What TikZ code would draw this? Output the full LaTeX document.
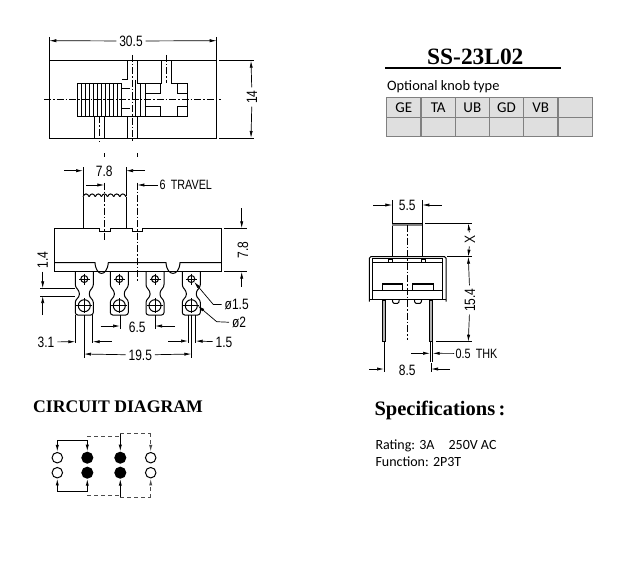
\documentclass[tikz,border=0pt]{standalone}
\usepackage{fontspec}
\setmainfont{Liberation Serif}
\newfontfamily\dimfont[FakeStretch=0.8]{Liberation Sans}
\newfontfamily\knobfont{Carlito}
\usepackage{tikz}
\usetikzlibrary{arrows.meta}

\begin{document}
\begin{tikzpicture}
	[x=1pt,y=-1pt,line width=1pt,
	>={Latex[length=7pt,width=3.2pt]},
	dimline/.style={->,line width=0.7pt},
	ext/.style={line width=0.7pt},
	center/.style={line width=0.6pt,dash pattern=on 7pt off 2pt on 1.5pt off 2pt},
	lab/.style={font=\dimfont\fontsize{15}{15}\selectfont,inner sep=2.5pt},
	note/.style={font=\dimfont\fontsize{13.5}{13.5}\selectfont,inner sep=1pt},
	hole/.style={circle,draw,inner sep=0pt},
	open/.style={circle,draw,fill=white,minimum size=10.5pt,inner sep=0pt},
	solid/.style={circle,draw,fill=black,minimum size=11pt,inner sep=0pt},
	cell/.style={font=\knobfont\fontsize{15}{15}\selectfont,inner sep=0pt}]
	\useasboundingbox (0,0) rectangle (617,567);
	%TOP VIEW
	\draw (49.3,60.7) rectangle (216.7,138);
	\foreach \x in {0,...,11}
	\draw (77.7+4*\x,83.3) -- (77.7+4*\x,116.3);
	\draw (77.7,83.3) rectangle (121.7,116.3);
	\draw (94.7,116.3) -- (94.7,138) (104.7,116.3) -- (104.7,138);
	\draw (127.7,60.7) -- (127.7,80) -- (121.7,80);
	\draw (121.7,88.3) -- (130,88.3) (121.7,108.3) -- (130,108.3);
	\draw (127.7,138) -- (127.7,116.7) -- (121.7,116.7);
	\draw (137.7,60.7) -- (137.7,83.3) -- (161,83.3) -- (161,60.7);
	\draw (171,60.7) -- (171,83.3) -- (187.7,83.3) -- (187.7,116.7) -- (127.7,116.7);
	\draw (137.7,116.7) -- (137.7,138);
	\draw (135,80) -- (135,116.7);
	\draw (140,83.3) -- (140,116.7) (145,83.3) -- (145,116.7);
	\draw (145,93.3) -- (160,93.3) -- (160,83.3);
	\draw (177.7,83.3) -- (177.7,93.3) -- (187.7,93.3);
	\draw (145,106.7) -- (160,106.7) -- (160,116.7);
	\draw (177.7,116.7) -- (177.7,106.7) -- (187.7,106.7);
	\draw[center] (44,99.7) -- (221,99.7);
	\draw[center] (132.7,55) -- (132.7,142);
	\draw[center] (166,55) -- (166,83);
	\draw[center] (99.5,116) -- (99.5,142);
	\draw[ext] (104.3,153) -- (104.3,157) (137.3,153) -- (137.3,157);
	\draw[ext] (49.3,37) -- (49.3,60.7) (216.7,37) -- (216.7,60.7);
	\draw[ext] (219,60.7) -- (254,60.7) (219,138) -- (254,138);
	\node[lab] (wid) at (131,41) {30.5};
	\node[lab,rotate=90] (hgt) at (252,97) {14};
	\foreach \n/\x/\y in {wl/49.3/40.7,wr/216.7/40.7,ht/251/60.7,hb/251/138}
	\coordinate (\n) at (\x,\y);
	\draw[dimline] (wid) -- (wl);
	\draw[dimline] (wid) -- (wr);
	\draw[dimline] (hgt) -- (ht);
	\draw[dimline] (hgt) -- (hb);
	%FRONT VIEW
	\draw (83,228.3) -- (83,196.7);
	\foreach \x in {0,...,6}
	\draw (83+6.14*\x,196.7) .. controls (84.5+6.14*\x,193) and (87.5+6.14*\x,193) .. (89.14+6.14*\x,196.7);
	\draw (126,196.7) -- (126,228.3);
	\draw (54.3,228.3) -- (99.3,228.3) -- (99.3,231.3) -- (110,231.3) -- (110,228.3)
		-- (132.7,228.3) -- (132.7,231.3) -- (142.7,231.3) -- (142.7,228.3)
		-- (221.7,228.3) -- (221.7,271.7) -- (54.3,271.7) -- cycle;
	\draw (54.3,262.7) -- (95,262.7) .. controls (96,277) and (107,277) .. (108.3,262.7) -- (166,262.7)
		.. controls (167,277) and (179,277) .. (180,262.7) -- (221.7,262.7);
	\foreach \x/\n in {84.3/0,119.3/1,155/2,191.3/3}
	{
		\draw[rounded corners=2.5pt] (\x-9,271.7) -- (\x-9,287) -- (\x-5,291) -- (\x-5,297) -- (\x-9,300) -- (\x-9,315) -- (\x+9,315)
			-- (\x+9,300) -- (\x+5,297) -- (\x+5,291) -- (\x+9,287) -- (\x+9,271.7);
		\node[hole,minimum size=7pt] (sm\n) at (\x,279) {};
		\node[hole,minimum size=12pt] (bg\n) at (\x,305.7) {};
		\draw[ext] (\x-5.5,279) -- (\x+5.5,279) (\x,273.5) -- (\x,284.5);
		\draw[ext] (\x-8,305.7) -- (\x+8,305.7) (\x,298) -- (\x,313);
	};
	\draw[center] (104.3,182.7) -- (104.3,240);
	\draw[center] (137.3,182.7) -- (137.3,282);
	\draw[ext] (83,167) -- (83,196) (126,167) -- (126,196);
	\draw[ext] (224,228.3) -- (247,228.3) (224,271.7) -- (247,271.7);
	\draw[ext] (40,288.3) -- (75,288.3) (40,296) -- (75,296);
	\draw[ext] (75.3,315) -- (75.3,343) (84,315) -- (84,358) (92.7,315) -- (92.7,343);
	\draw[ext] (120,315) -- (120,329) (155,315) -- (155,329);
	\draw[ext] (188,315) -- (188,343) (191.3,315) -- (191.3,358) (195.7,315) -- (195.7,343);
	\node[lab] (kw) at (104.3,171) {7.8};
	\node[note,anchor=west] (trv) at (158,185) {6 \,TRAVEL};
	\node[lab,rotate=90] (bh) at (243,250) {7.8};
	\node[lab,rotate=90] (gap) at (42.7,260) {1.4};
	\node[lab] (ltw) at (46,342) {3.1};
	\node[lab] (lsp) at (137.3,327) {6.5};
	\node[lab] (pit) at (140.3,355) {19.5};
	\node[lab] (tip) at (224,342) {1.5};
	\node[lab] (dsm) at (236.7,304.7) {ø1.5};
	\node[lab] (dbg) at (239,322.7) {ø2};
	\foreach \n/\x/\y in {kl/83/170.7,kr/126/170.7,kls/64/170.7,krs/145/170.7,
		tl/104.3/185,tls/86/185,tr/137.3/185,
		bt/241.7/228.3,bb/241.7/271.7,bts/241.7/208.3,bbs/241.7/286.7,
		gt/42.7/288.3,gb/42.7/296,gts/42.7/271.7,gbs/42.7/315,
		wal/75.3/341.7,war/92.7/341.7,wars/111.7/341.7,
		sl/120/326,sr/155/326,sls/100.7/326,srs/175/326,
		pl/84/354,pr/191.3/354,
		tpl/188/341,tpr/195.7/341,tpls/168.3/341,
		ks/213.3/304.5,kb/216.7/321.7}
	\coordinate (\n) at (\x,\y);
	\draw[dimline] (kls) -- (kl);
	\draw[dimline] (krs) -- (kr);
	\draw[dimline] (tls) -- (tl);
	\draw[dimline] (trv) -- (tr);
	\draw[dimline] (bts) -- (bt);
	\draw[dimline] (bbs) -- (bb);
	\draw[dimline] (gts) -- (gt);
	\draw[dimline] (gbs) -- (gb);
	\draw[dimline] (ltw) -- (wal);
	\draw[dimline] (wars) -- (war);
	\draw[dimline] (sls) -- (sl);
	\draw[dimline] (srs) -- (sr);
	\draw[dimline] (pit) -- (pl);
	\draw[dimline] (pit) -- (pr);
	\draw[dimline] (tpls) -- (tpl);
	\draw[dimline] (tip) -- (tpr);
	\draw[dimline] (dsm) -- (ks) -- (sm3.south east);
	\draw[dimline] (dbg) -- (kb) -- (bg3.east);
	%SIDE VIEW
	\draw (392.3,256.7) -- (392.3,223.3) -- (422.3,223.3) -- (422.3,256.7);
	\draw[gray,line width=1.4pt] (392.3,225) -- (422.3,225);
	\draw[rounded corners=1.5pt] (369.3,301.5) -- (369.3,256.7) -- (446,256.7) -- (446,301.5);
	\draw (369.3,299.3) -- (446,299.3);
	\draw (372.7,299.3) -- (372.7,258.7) -- (442.7,258.7) -- (442.7,299.3);
	\draw (372.7,262.3) -- (442.7,262.3);
	\draw (372.7,290.7) -- (442.7,290.7);
	\draw (388.3,259) rectangle (392.3,262.3) (421,259) rectangle (425,262.3);
	\draw[fill=white] (382,283.3) rectangle (402,290.7) (412.7,283.3) rectangle (433.3,290.7);
	\draw[line width=1.6pt] (382,284) -- (402,284) (412.7,284) -- (433.3,284);
	\draw[rounded corners=1pt] (392.3,299.3) -- (393,303.3) -- (398.6,303.3) -- (399.3,299.3);
	\draw[rounded corners=1pt] (414.3,299.3) -- (415,303.3) -- (421,303.3) -- (421.7,299.3);
	\draw[fill=gray!60] (382.3,300) rectangle (385.7,341.7) (429.3,300) rectangle (432.7,341.7);
	\draw[center] (407.3,225) -- (407.3,340);
	\draw[ext] (392.3,200) -- (392.3,223) (422.3,200) -- (422.3,223);
	\draw[ext] (425,223.3) -- (471.7,223.3) (447,256.7) -- (471.7,256.7) (436,341.7) -- (471.7,341.7);
	\draw[ext] (430,342) -- (430,362) (432.7,342) -- (432.7,362);
	\draw[ext] (384,342) -- (384,372) (431,363) -- (431,372);
	\node[lab] (knw) at (407.3,205.3) {5.5};
	\node[lab,rotate=90] (hx) at (470,239.3) {X};
	\node[lab,rotate=90] (pht) at (470,300) {15.4};
	\node[note,anchor=west] (thk) at (454,353.5) {0.5 \,THK};
	\node[lab] (psp) at (407.3,370) {8.5};
	\foreach \n/\x/\y in {nl/392.3/205,nr/422.3/205,nls/373.3/205,nrs/441.7/205,
		xt/468.3/223.3,xb/468.3/256.7,
		ppt/468.3/256.7,ppb/468.3/341.7,
		thl/430/353.3,thr/432.7/353.3,thls/411/353.3,
		dl/384/369,dr/431/369,dls/369.3/369,drs/450/369}
	\coordinate (\n) at (\x,\y);
	\draw[dimline] (nls) -- (nl);
	\draw[dimline] (nrs) -- (nr);
	\draw[dimline] (hx) -- (xt);
	\draw[dimline] (hx) -- (xb);
	\draw[dimline] (pht) -- (ppt);
	\draw[dimline] (pht) -- (ppb);
	\draw[dimline] (thls) -- (thl);
	\draw[dimline] (thk) -- (thr);
	\draw[dimline] (dls) -- (dl);
	\draw[dimline] (drs) -- (dr);
	%TITLE AND KNOB TABLE
	\node[font=\bfseries\fontsize{23.4}{23.4}\selectfont,inner sep=0pt] (part) at (475.3,56.5) {SS-23L02};
	\draw[line width=2pt] (385,67.7) -- (561,67.7);
	\node[font=\knobfont\fontsize{14.4}{14.4}\selectfont,inner sep=0pt,anchor=west] (opt) at (386.7,87) {Optional knob type};
	\fill[gray!25] (386.7,97.7) rectangle (592.3,136.7);
	\draw[gray,line width=1.2pt] (386.7,97.7) rectangle (592.3,136.7);
	\draw[gray,line width=1.2pt] (386.7,117.3) -- (592.3,117.3);
	\foreach \x in {421,455.3,489.3,523.7,558}
	\draw[gray,line width=1.2pt] (\x,97.7) -- (\x,136.7);
	\foreach \x/\t in {403.8/GE,438.2/TA,472.3/UB,506.5/GD,540.8/VB}
	\node[cell] (k\t) at (\x,107.5) {\t};
	%CIRCUIT
	\node[font=\bfseries\fontsize{17.7}{17.7}\selectfont,inner sep=0pt,anchor=west] (circ) at (32.7,407) {CIRCUIT DIAGRAM};
	\node[open] (a0) at (57.3,457.7) {};
	\node[open] (b0) at (57.3,472.7) {};
	\node[solid] (a1) at (87.3,457.7) {};
	\node[solid] (b1) at (87.3,472.7) {};
	\node[solid] (a2) at (120.3,457.7) {};
	\node[solid] (b2) at (120.3,472.7) {};
	\node[open] (a3) at (150.7,457.7) {};
	\node[open] (b3) at (150.7,472.7) {};
	\foreach \n/\x/\y in {p0/57.3/440,p1/87.3/440,p2/87.3/436.7,p3/120.3/436.7,p4/120.3/433.3,p5/150.7/433.3,
		q0/57.3/491,q1/87.3/491,q2/87.3/495,q3/120.3/495,q4/120.3/497.7,q5/150.7/497.7}
	\coordinate (\n) at (\x,\y);
	\draw[<->] (a0) -- (p0) -- (p1) -- (a1);
	\draw[<->] (b0) -- (q0) -- (q1) -- (b1);
	\draw[dash pattern=on 4pt off 3pt,gray!60!black] (p2) -- (p3);
	\draw[dash pattern=on 4pt off 3pt,gray!60!black] (q2) -- (q3);
	\draw[->] (p4) -- (a2);
	\draw[->] (q4) -- (b2);
	\draw[dash pattern=on 4pt off 3pt,gray!60!black] (p4) -- (p5);
	\draw[dash pattern=on 4pt off 3pt,gray!60!black] (q4) -- (q5);
	\draw[dash pattern=on 4pt off 3pt,gray!60!black,->] (p5) -- (a3);
	\draw[dash pattern=on 4pt off 3pt,gray!60!black,->] (q5) -- (b3);
	%SPECIFICATIONS
	\node[font=\bfseries\fontsize{20.5}{20.5}\selectfont,inner sep=0pt,anchor=west] (spec) at (374,410) {Specifications\,:};
	\node[font=\knobfont\fontsize{14}{14}\selectfont,inner sep=0pt,anchor=west] (rate) at (375,446) {Rating: 3A\quad 250V AC};
	\node[font=\knobfont\fontsize{14}{14}\selectfont,inner sep=0pt,anchor=west] (func) at (375,462) {Function: 2P3T};
\end{tikzpicture}
\end{document}
